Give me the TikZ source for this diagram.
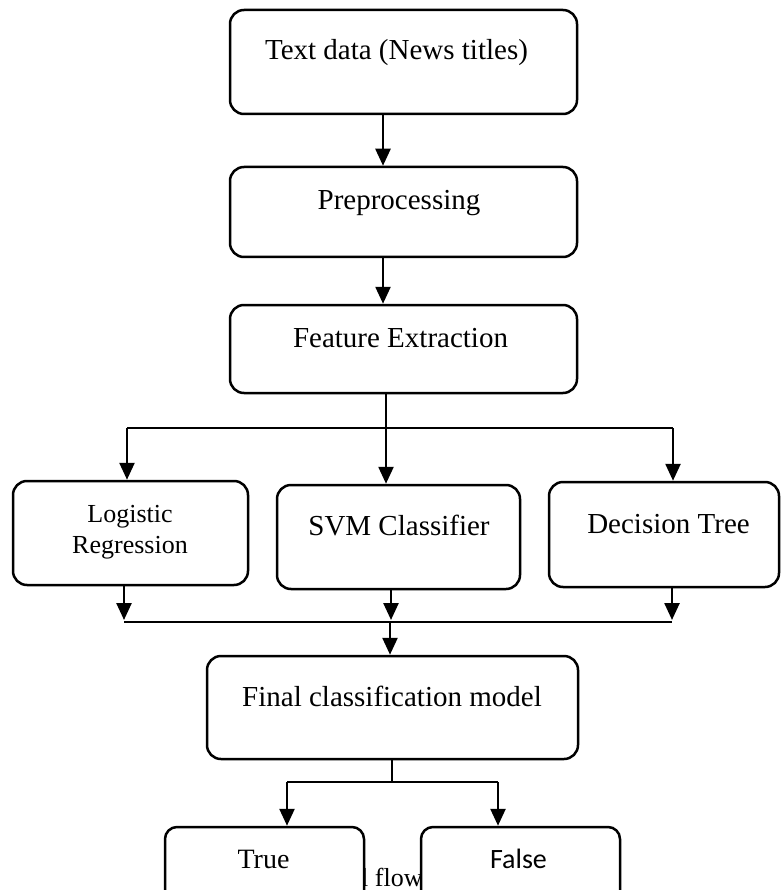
\documentclass[tikz,border=0pt]{standalone}
\usepackage{fontspec}
\setmainfont{Liberation Serif}
\newfontfamily\calib{Carlito}
\usetikzlibrary{arrows.meta,calc}
\begin{document}
\begin{tikzpicture}[x=1pt,y=-1pt,
  box/.style={draw=black,line width=2.5pt,rounded corners=14pt,fill=white,inner sep=0pt},
  lbl/.style={anchor=base,inner sep=0pt,font=\fontsize{29}{31}\selectfont},
  arr/.style={line width=2.5pt,-{Triangle[width=15pt,length=17pt]}},
  thinline/.style={line width=1.3pt}]
\useasboundingbox (0,0) rectangle (781,890);
\fill[white] (0,0) rectangle (781,890);
\clip (0,0) rectangle (781,890);

% caption fragment (partly hidden behind the boxes)
\node[anchor=base west,inner sep=0pt,font=\fontsize{26}{28}\selectfont] (cap) at (361,886) {l flow};

% boxes
\node[box,minimum width=347pt,minimum height=104pt] (b1) at (403.5,62) {};
\node[box,minimum width=347pt,minimum height=90pt] (b2) at (403.5,212) {};
\node[box,minimum width=347pt,minimum height=88pt] (b3) at (403.5,349) {};
\node[box,minimum width=235pt,minimum height=104pt] (lr) at (130.5,533) {};
\node[box,minimum width=243pt,minimum height=104pt] (svm) at (398.5,537) {};
\node[box,minimum width=230pt,minimum height=105pt] (dt) at (664,534.5) {};
\node[box,minimum width=371pt,minimum height=103pt] (fin) at (392.5,707.5) {};
\node[box,rounded corners=12pt,minimum width=199pt,minimum height=78pt] (tru) at (264.5,866) {};
\node[box,rounded corners=12pt,minimum width=199pt,minimum height=78pt] (fal) at (520.5,866) {};

% labels
\node[lbl] (t1) at (396.5,60) {Text data (News titles)};
\node[lbl] (t2) at (399,210) {Preprocessing};
\node[lbl] (t3) at (400.5,347) {Feature Extraction};
\node[lbl,font=\fontsize{26}{28}\selectfont] (t4a) at (130,522) {Logistic};
\node[lbl,font=\fontsize{26}{28}\selectfont] (t4b) at (130,553) {Regression};
\node[lbl] (t5) at (399,535) {SVM Classifier};
\node[lbl] (t6) at (668.5,533) {Decision Tree};
\node[lbl] (t7) at (392,706) {Final classification model};
\node[lbl,font=\fontsize{28}{30}\selectfont] (t8) at (263.5,868) {True};
\node[lbl,font=\calib\fontsize{28}{30}\selectfont] (t9) at (518.5,868) {False};

% top chain
\coordinate (xa) at (383,0);
\coordinate (xc) at (386,0);
\draw[arr] (b1.south -| xa) -- (b2.north -| xa);
\draw[arr] (b2.south -| xa) -- (b3.north -| xa);

% split to classifiers
\coordinate (hl) at (127,428);
\coordinate (hr) at (673,428);
\draw[thinline] (hl) -- (hr);
\draw[arr] (b3.south -| xc) -- (svm.north -| xc);
\draw[arr] (hl) -- (lr.north -| hl);
\draw[arr] (hr) -- (dt.north -| hr);

% merge
\coordinate (j1) at (124,620);
\coordinate (j2) at (391,620);
\coordinate (j3) at (672,620);
\coordinate (ql) at (124,622);
\coordinate (qr) at (672,622);
\coordinate (jm) at (390,622);
\draw[arr] (lr.south -| j1) -- (j1);
\draw[arr] (svm.south -| j2) -- (j2);
\draw[arr] (dt.south -| j3) -- (j3);
\draw[thinline] (ql) -- (qr);
\draw[arr] (jm) -- (fin.north -| jm);

% final split
\coordinate (fm) at (392,782);
\coordinate (tl) at (287,782);
\coordinate (tr) at (498,782);
\draw[thinline] (fin.south -| fm) -- (fm);
\draw[thinline] (tl) -- (tr);
\draw[arr] (tl) -- (tru.north -| tl);
\draw[arr] (tr) -- (fal.north -| tr);
\end{tikzpicture}
\end{document}
